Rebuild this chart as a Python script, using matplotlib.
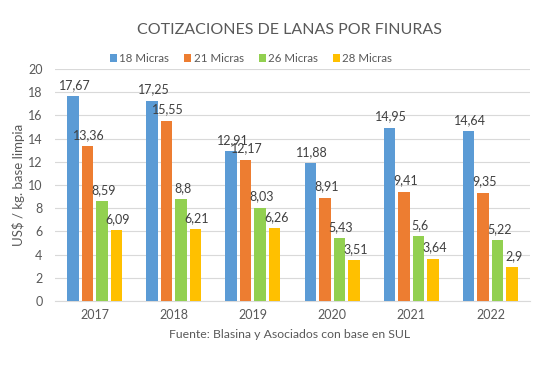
import matplotlib.pyplot as plt
import numpy as np

years = ['2017', '2018', '2019', '2020', '2021', '2022']
series_names = ['18 Micras', '21 Micras', '26 Micras', '28 Micras']
m18 = [17.67, 17.25, 12.91, 11.88, 14.95, 14.64]
m21 = [13.36, 15.55, 12.17, 8.91, 9.41, 9.35]
m26 = [8.59, 8.8, 8.03, 5.43, 5.6, 5.22]
m28 = [6.09, 6.21, 6.26, 3.51, 3.64, 2.9]

colors = ['#5B9BD5', '#ED7D31', '#92D050', '#FFC000']
text_gray = '#595959'

plt.rcParams['font.family'] = ['Lato', 'DejaVu Sans']

fig = plt.figure(figsize=(5.46, 3.66), dpi=100)
ax = fig.add_axes([0.1007, 0.1776, 0.87, 0.634])

x = np.arange(len(years))
pitch = 0.183
width = 0.145
for i, (vals, name) in enumerate(zip([m18, m21, m26, m28], series_names)):
    pos = x + (i - 1.5) * pitch
    ax.bar(pos, vals, width=width, color=colors[i], label=name, zorder=3)
    for px, v in zip(pos, vals):
        lbl = ('%g' % v).replace('.', ',')
        ax.text(px + 0.02, v + 0.45, lbl, ha='center', va='bottom',
                fontsize=9, color='#404040', zorder=4)

ax.set_xlim(-0.5, 5.5)
ax.set_ylim(0, 20)
ax.set_yticks(range(0, 21, 2))
ax.set_xticks(x)
ax.set_xticklabels(years)
ax.grid(axis='y', color='#D9D9D9', linewidth=0.8, zorder=0)
for s in ['top', 'right', 'left']:
    ax.spines[s].set_visible(False)
ax.spines['bottom'].set_color('#D9D9D9')
ax.tick_params(axis='both', length=0, labelsize=9, colors=text_gray)
ax.tick_params(axis='x', pad=6)
ax.tick_params(axis='y', pad=9)
ax.set_ylabel('US$ / kg. base limpia', fontsize=9.5, color=text_gray, labelpad=2)

fig.text(0.53, 0.918, 'COTIZACIONES DE LANAS POR FINURAS', ha='center', va='center',
         fontsize=11.5, color=text_gray)
fig.legend(loc='center', bbox_to_anchor=(0.46, 0.840), ncol=4, frameon=False,
           fontsize=8.3, handlelength=0.6, handleheight=0.6, handletextpad=0.2,
           columnspacing=1.3, labelcolor=text_gray)
fig.text(0.53, 0.085, 'Fuente: Blasina y Asociados con base en SUL', ha='center',
         va='center', fontsize=8.8, color=text_gray)

fig.savefig('out.png', dpi=100)
